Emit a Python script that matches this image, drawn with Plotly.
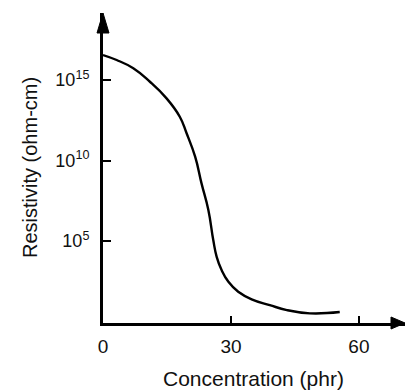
import plotly.graph_objects as go

# Data (concentration in phr, log10 of resistivity in ohm-cm)
concentration = [0, 3.2, 7.1, 11.0, 14.9, 18.0, 19.6, 21.6, 23.1, 24.7, 25.85, 26.65,
                 27.8, 29.4, 31.7, 34.85, 39.1, 43.1, 48.5, 55.5]
log_resistivity = [16.55, 16.24, 15.73, 14.89, 13.86, 12.72, 11.69, 10.24, 8.58, 6.93,
                   5.06, 4.02, 3.20, 2.47, 1.85, 1.38, 1.02, 0.71, 0.51, 0.59]
resistivity = [10 ** v for v in log_resistivity]

x_ticks = [0, 30, 60]
x_tick_labels = ["0", "30", "60"]
y_ticks = [1e5, 1e10, 1e15]
y_tick_labels = ["10<sup>5</sup>", "10<sup>10</sup>", "10<sup>15</sup>"]

FONT = "Liberation Sans, Arial, Helvetica, sans-serif"
W, H = 405, 391
L, R, T, B = 103, 0, 13, 68
pw, ph = W - L - R, H - T - B

fig = go.Figure()
fig.add_trace(go.Scatter(
    x=concentration, y=resistivity, mode="lines",
    line=dict(color="black", width=2.4, shape="spline", smoothing=1.3),
    hoverinfo="skip", showlegend=False,
))

fig.update_layout(
    width=W, height=H,
    margin=dict(l=L, r=R, t=T, b=B, autoexpand=False),
    paper_bgcolor="white", plot_bgcolor="white",
    font=dict(family=FONT, size=18, color="#111111"),
    xaxis=dict(
        range=[0, 70.8], showgrid=False, zeroline=False,
        showline=True, linecolor="black", linewidth=3,
        tickmode="array", tickvals=x_ticks, ticktext=x_tick_labels,
        ticks="inside", ticklen=7, tickwidth=2, tickcolor="black",
        tickfont=dict(size=19), ticklabelstandoff=4,
    ),
    yaxis=dict(
        type="log", range=[-0.09, 19.16], showgrid=False, zeroline=False,
        showline=True, linecolor="black", linewidth=3,
        tickmode="array", tickvals=y_ticks, ticktext=y_tick_labels,
        ticks="inside", ticklen=8, tickwidth=2, tickcolor="black",
        tickfont=dict(size=18), ticklabelstandoff=7,
    ),
    shapes=[
        # y-axis arrow head
        dict(type="path", xref="paper", yref="paper",
             path=f"M 0 1 L {-6/pw} {1-20/ph} L {6/pw} {1-20/ph} Z",
             fillcolor="black", line=dict(color="black", width=1)),
        # x-axis arrow head
        dict(type="path", xref="paper", yref="paper",
             path=f"M 1 0 L {1-14/pw} {6/ph} L {1-14/pw} {-6/ph} Z",
             fillcolor="black", line=dict(color="black", width=1)),
    ],
    annotations=[
        dict(text="Concentration (phr)", xref="paper", yref="paper",
             x=(253 - L) / pw, y=-(378 - (T + ph)) / ph, showarrow=False,
             xanchor="center", yanchor="middle", font=dict(size=21)),
        dict(text="Resistivity (ohm-cm)", xref="paper", yref="paper",
             x=-(L - 30) / pw, y=(T + ph - 168) / ph, showarrow=False, textangle=-90,
             xanchor="center", yanchor="middle", font=dict(size=20)),
    ],
)

fig.write_html(
    "out.html",
    config={"displayModeBar": False},
    post_script="document.body.style.margin='0';document.body.style.padding='0';",
)
